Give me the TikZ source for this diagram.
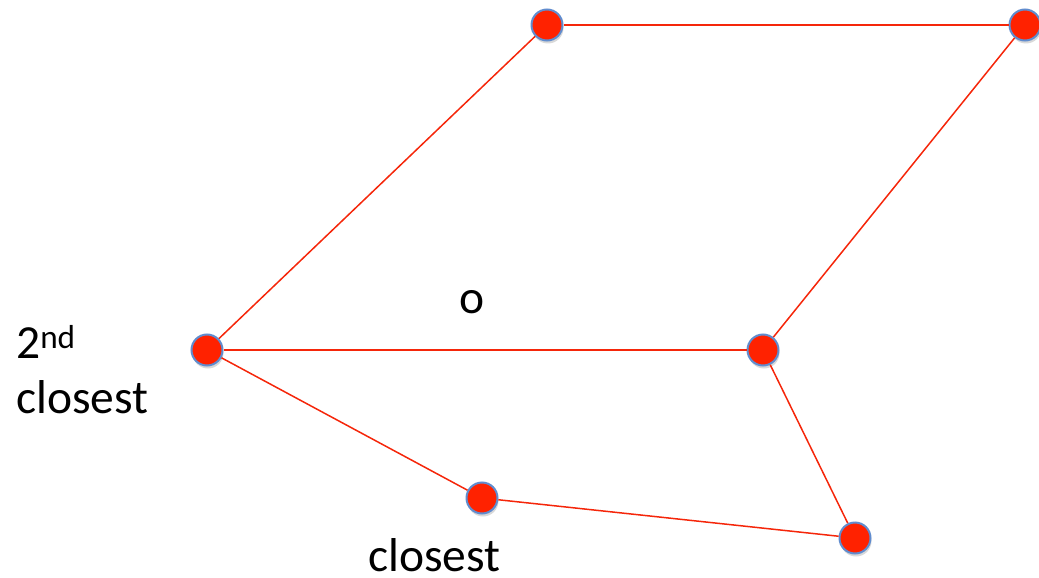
\documentclass[tikz,border=0pt]{standalone}
\usepackage{fontspec}
\setmainfont{Carlito}
\usetikzlibrary{shadows}
\definecolor{vred}{RGB}{255,34,0}
\definecolor{vrim}{RGB}{96,140,206}
\definecolor{ered}{RGB}{245,38,10}
\begin{document}
\begin{tikzpicture}[x=1pt,y=-1pt,
  vtx/.style={circle,minimum size=31pt,inner sep=0pt,fill=vred,draw=vrim,line width=2pt,
    drop shadow={shadow xshift=1pt,shadow yshift=-3pt,opacity=0.25,fill=black!60}},
  edge/.style={draw=ered,line width=1.5pt},
  lbl/.style={inner sep=0pt,anchor=base west,font=\fontsize{47.5}{56}\selectfont}]
\useasboundingbox (0,0) rectangle (1039,578);
% labels
\node[lbl] (t2) at (16,358) {2\textsuperscript{nd}};
\node[lbl] (t2c) at (16,413) {closest};
\node[lbl] (t1) at (368,571) {closest};
\node[lbl] (o) at (459,313) {o};
% vertices
\node[vtx] (a) at (547,25) {};
\node[vtx] (b) at (1025,25) {};
\node[vtx] (c) at (207,350) {};
\node[vtx] (d) at (763,350) {};
\node[vtx] (e) at (482,498) {};
\node[vtx] (f) at (855,538) {};
% polygon edges
\path[edge] (a) -- (b);
\path[edge] (a) -- (c);
\path[edge] (b) -- (d);
\path[edge] (c) -- (d);
\path[edge] (c) -- (e);
\path[edge] (e) -- (f);
\path[edge] (d) -- (f);
\end{tikzpicture}
\end{document}
